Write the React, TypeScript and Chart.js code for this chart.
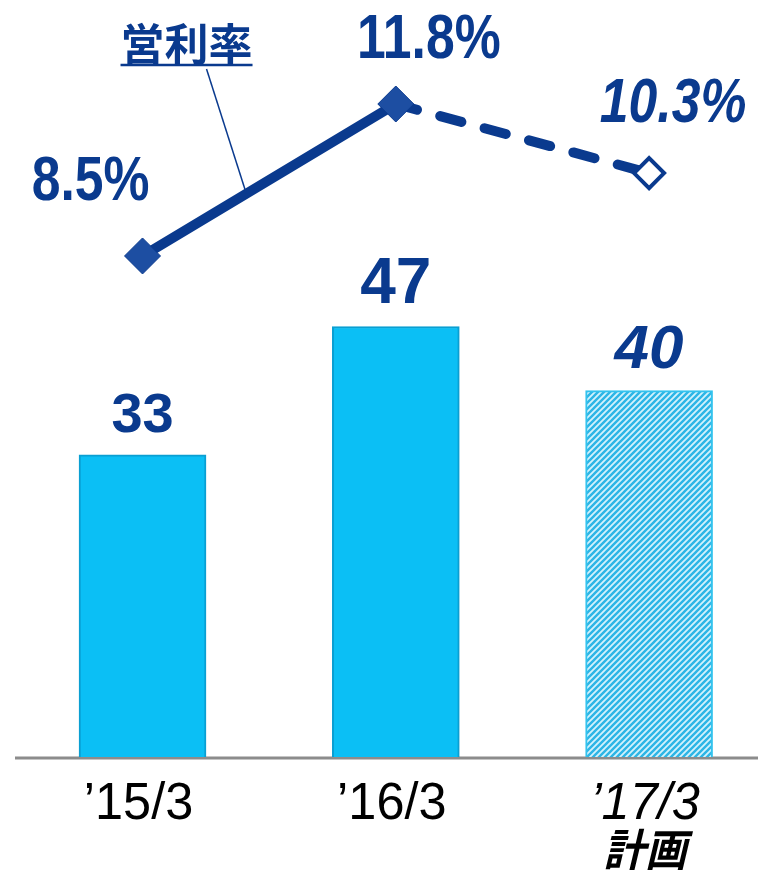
import { useEffect, useRef } from 'react';
import { Chart, registerables } from 'chart.js';

Chart.register(...registerables);

// ---- data ----
const categories: string[][] = [['’15/3'], ['’16/3'], ['’17/3', '計画']];
const operatingProfit = [33, 47, 40];
const operatingMargin = [8.5, 11.8, 10.3];
const marginLabels = ['8.5%', '11.8%', '10.3%'];
const isPlan = [false, false, true];
const seriesTitle = '営利率';

// ---- style ----
const NAVY = '#0a3a8e';
const BAR_BLUE = '#0bbff5';
const BAR_EDGE = '#0a9fd2';
const SANS = '"Liberation Sans", Arial, sans-serif';
const CJK = '"Noto Sans CJK JP", "Noto Sans", sans-serif';
const barLabelSizes = [56, 64, 62];
const marginLabelOffsets = [
  [-52, -73],
  [33, -63],
  [24, -68],
];

function makeStripePattern(): CanvasPattern | string {
  const c = document.createElement('canvas');
  const s = 6;
  c.width = s;
  c.height = s;
  const g = c.getContext('2d');
  if (!g) return BAR_BLUE;
  g.fillStyle = '#d2f2fc';
  g.fillRect(0, 0, s, s);
  g.strokeStyle = '#2cb5e6';
  g.lineWidth = 2.4;
  g.beginPath();
  g.moveTo(-1, s + 1);
  g.lineTo(s + 1, -1);
  g.moveTo(-1, 1);
  g.lineTo(1, -1);
  g.moveTo(s - 1, s + 1);
  g.lineTo(s + 1, s - 1);
  g.stroke();
  const p = g.createPattern(c, 'repeat');
  return p || BAR_BLUE;
}

function drawScaledText(
  ctx: CanvasRenderingContext2D,
  text: string,
  x: number,
  y: number,
  sx: number
) {
  ctx.save();
  ctx.translate(x, y);
  ctx.scale(sx, 1);
  ctx.fillText(text, 0, 0);
  ctx.restore();
}

const labelPlugin = {
  id: 'labelPlugin',
  beforeDatasetsDraw(chart: any) {
    const ctx = chart.ctx as CanvasRenderingContext2D;
    const { left, bottom } = chart.chartArea;
    ctx.save();
    ctx.strokeStyle = '#8c8c8c';
    ctx.lineWidth = 3;
    ctx.beginPath();
    ctx.moveTo(left - 4, bottom + 1);
    ctx.lineTo(chart.width, bottom + 1);
    ctx.stroke();
    ctx.restore();
  },
  afterDatasetsDraw(chart: any) {
    const ctx = chart.ctx as CanvasRenderingContext2D;
    const barMeta = chart.getDatasetMeta(0);
    const lineMeta = chart.getDatasetMeta(1);
    const xScale = chart.scales.x;
    ctx.save();
    ctx.fillStyle = NAVY;
    ctx.textAlign = 'center';

    // bar value labels
    barMeta.data.forEach((el: any, i: number) => {
      ctx.font = `${isPlan[i] ? 'italic ' : ''}bold ${barLabelSizes[i]}px ${SANS}`;
      ctx.textBaseline = 'alphabetic';
      ctx.fillText(String(operatingProfit[i]), el.x, el.y - 23);
    });

    // margin labels
    lineMeta.data.forEach((el: any, i: number) => {
      ctx.font = `${isPlan[i] ? 'italic ' : ''}bold 63px ${SANS}`;
      ctx.textBaseline = 'middle';
      const [dx, dy] = marginLabelOffsets[i];
      drawScaledText(ctx, marginLabels[i], el.x + dx, el.y + dy, 0.82);
    });

    // series title with leader line
    const p0 = lineMeta.data[0];
    const p1 = lineMeta.data[1];
    if (p0 && p1) {
      const tx = p0.x + 44;
      const ty = p1.y - 60;
      ctx.font = `bold 44px ${CJK}`;
      ctx.textBaseline = 'middle';
      ctx.fillText(seriesTitle, tx, ty);
      const w = ctx.measureText(seriesTitle).width;
      ctx.strokeStyle = NAVY;
      ctx.lineWidth = 2.5;
      ctx.beginPath();
      ctx.moveTo(tx - w / 2, ty + 21);
      ctx.lineTo(tx + w / 2, ty + 21);
      ctx.stroke();
      const t = 0.41;
      const ex = p0.x + (p1.x - p0.x) * t;
      const ey = p0.y + (p1.y - p0.y) * t;
      ctx.lineWidth = 1.5;
      ctx.beginPath();
      ctx.moveTo(tx + 20, ty + 25);
      ctx.lineTo(ex, ey);
      ctx.stroke();
    }

    // category labels
    ctx.fillStyle = '#000000';
    ctx.textBaseline = 'alphabetic';
    categories.forEach((lines, i) => {
      const x = xScale.getPixelForValue(i) - 4;
      lines.forEach((line, j) => {
        const isCjk = /[\u3000-\u9fff]/.test(line);
        ctx.font = `${isPlan[i] ? 'italic ' : ''}${isCjk ? 'bold ' : ''}${isCjk ? 44 : 52}px ${
          isCjk ? CJK : SANS
        }`;
        drawScaledText(ctx, line, x, xScale.top + 62 + j * 47, isCjk ? 0.95 : 0.97);
      });
    });
    ctx.restore();
  },
};

export default function App() {
  const ref = useRef<HTMLCanvasElement | null>(null);

  useEffect(() => {
    document.body.style.margin = '0';
    const canvas = ref.current;
    if (!canvas) return;
    const stripe = makeStripePattern();
    const chart = new Chart(canvas, {
      type: 'bar',
      data: {
        datasets: [
          {
            type: 'bar',
            label: '営業利益',
            data: operatingProfit.map((v, i) => ({ x: i, y: v })),
            backgroundColor: operatingProfit.map((_, i) => (isPlan[i] ? stripe : BAR_BLUE)),
            borderColor: operatingProfit.map((_, i) => (isPlan[i] ? '#33c3ee' : BAR_EDGE)),
            borderWidth: 2,
            barThickness: 127,
            yAxisID: 'y',
            order: 2,
          } as any,
          {
            type: 'line',
            label: seriesTitle,
            data: operatingMargin.map((v, i) => ({ x: i, y: v })),
            yAxisID: 'y1',
            borderColor: NAVY,
            borderWidth: 10,
            borderCapStyle: 'round',
            pointStyle: 'rectRot',
            pointRadius: operatingMargin.map((_, i) => (isPlan[i] ? 15 : 18)),
            pointBackgroundColor: operatingMargin.map((_, i) => (isPlan[i] ? '#ffffff' : '#1d4ea2')),
            pointBorderColor: NAVY,
            pointBorderWidth: operatingMargin.map((_, i) => (isPlan[i] ? 4 : 1)),
            segment: {
              borderDash: (c: any) => (isPlan[c.p1DataIndex] ? [22, 24] : undefined),
            },
            order: 1,
          } as any,
        ],
      },
      options: {
        responsive: false,
        animation: false,
        devicePixelRatio: 1,
        layout: { padding: { left: 15, right: 0, top: 0, bottom: 0 } },
        plugins: { legend: { display: false }, tooltip: { enabled: false } },
        scales: {
          x: {
            type: 'linear',
            offset: false,
            min: -0.4877,
            max: 2.355,
            grid: { display: false, drawTicks: false },
            border: { display: false },
            afterFit: (s: any) => {
              s.height = 113;
            },
            ticks: { display: false },
          },
          y: { display: false, min: 0, max: 80.57 },
          y1: { display: false, min: -2.38, max: 13.646 },
        },
      } as any,
      plugins: [labelPlugin],
    });
    return () => chart.destroy();
  }, []);

  return (
    <div style={{ width: 758, height: 870, background: '#ffffff' }}>
      <canvas ref={ref} width={758} height={870} style={{ display: 'block' }} />
    </div>
  );
}
